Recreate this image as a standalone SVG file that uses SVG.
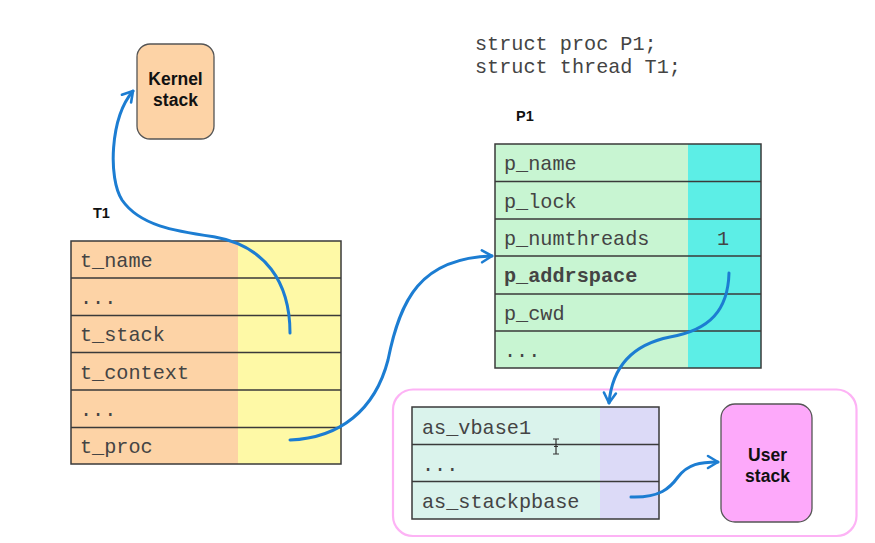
<svg xmlns="http://www.w3.org/2000/svg" width="875" height="543" viewBox="0 0 875 543">
<style>
.mono{font-family:"Liberation Mono","Courier New",monospace;font-size:20.2px;fill:#444}
.lbl{font-family:"Liberation Sans",Arial,sans-serif;font-weight:bold;fill:#111}
.grid{stroke:#3a3a3a;stroke-width:1.5;fill:none}
.conn{fill:none;stroke:#1C7DD2;stroke-width:3;stroke-linecap:round}
</style>
<defs>
<marker id="chev" markerUnits="userSpaceOnUse" markerWidth="16" markerHeight="16" refX="12" refY="7" orient="auto" viewBox="0 0 16 14">
<path d="M2,1 L12,7 L2,13" fill="none" stroke="#1C7DD2" stroke-width="2.6" stroke-linecap="round" stroke-linejoin="round"/>
</marker>
</defs>
<rect width="875" height="543" fill="#fff"/>

<g id="code">
<text class="mono" x="475" y="50">struct proc P1;</text>
<text class="mono" x="475" y="73">struct thread T1;</text>
</g>

<g id="kernel-stack">
<rect x="137" y="44" width="77" height="95" rx="13" fill="#FDD3A6" stroke="#555" stroke-width="1.3"/>
<text class="lbl" x="175.5" y="85" font-size="17.5" text-anchor="middle">Kernel</text>
<text class="lbl" x="175.5" y="106" font-size="17.5" text-anchor="middle">stack</text>
</g>

<g id="T1">
<text class="lbl" x="93" y="218" font-size="14.5">T1</text>
<rect x="71" y="241" width="167" height="223" fill="#FDD3A6"/>
<rect x="238" y="241" width="103" height="223" fill="#FEF9A6"/>
<rect class="grid" x="71" y="241" width="270" height="223"/>
<path class="grid" d="M71,278H341M71,315.5H341M71,352.5H341M71,390H341M71,427.5H341"/>
<text class="mono" x="80" y="267">t_name</text>
<text class="mono" x="80" y="304">...</text>
<text class="mono" x="80" y="341">t_stack</text>
<text class="mono" x="80" y="379">t_context</text>
<text class="mono" x="80" y="416">...</text>
<text class="mono" x="80" y="453">t_proc</text>
</g>

<g id="P1">
<text class="lbl" x="516" y="121" font-size="14.5">P1</text>
<rect x="495" y="144" width="193" height="224" fill="#C8F5D2"/>
<rect x="688" y="144" width="73" height="224" fill="#5CEEE6"/>
<rect class="grid" x="495" y="144" width="266" height="224"/>
<path class="grid" d="M495,181.5H761M495,219H761M495,256H761M495,294H761M495,331H761"/>
<text class="mono" x="504" y="170">p_name</text>
<text class="mono" x="504" y="208">p_lock</text>
<text class="mono" x="504" y="245">p_numthreads</text>
<text class="mono" x="723" y="245" text-anchor="middle">1</text>
<text class="mono" x="504" y="282" font-weight="bold" fill="#111">p_addrspace</text>
<text class="mono" x="504" y="320">p_cwd</text>
<text class="mono" x="504" y="357">...</text>
</g>

<g id="addrspace">
<rect x="393" y="389.5" width="463.5" height="146.5" rx="20" fill="#fff" stroke="#FDB3F5" stroke-width="2.2"/>
<rect x="412" y="407" width="188" height="112" fill="#DAF3EC"/>
<rect x="600" y="407" width="59" height="112" fill="#DCDAF7"/>
<rect class="grid" x="412" y="407" width="247" height="112"/>
<path class="grid" d="M412,444.5H659M412,481.5H659"/>
<text class="mono" x="422" y="434">as_vbase1</text>
<text class="mono" x="422" y="471">...</text>
<text class="mono" x="422" y="508">as_stackpbase</text>
<path d="M553,439H559M556,439V454M553,454H559M554,446.5H558" stroke="#333" stroke-width="1.2" fill="none"/>
</g>

<g id="user-stack">
<rect x="721" y="404" width="91" height="118" rx="14" fill="#FDA9FA" stroke="#555" stroke-width="1.3"/>
<text class="lbl" x="767.5" y="461" font-size="17.5" text-anchor="middle">User</text>
<text class="lbl" x="767.5" y="482" font-size="17.5" text-anchor="middle">stack</text>
</g>

<g id="connectors">
<path class="conn" marker-end="url(#chev)" d="M290,333 C290,282 265,246 215,237 C175,231 140,226 122,200 C108,178 110,118 133,91"/>
<path class="conn" marker-end="url(#chev)" d="M290,440 C340,438 375,410 388,360 C400,300 420,258 492,256"/>
<path class="conn" marker-end="url(#chev)" d="M729,273 C728,310 710,330 670,337 C630,345 612,370 609,403"/>
<path class="conn" marker-end="url(#chev)" d="M631,497 C660,498 670,488 678,477 C688,464 700,462 718,462"/>
</g>
</svg>
